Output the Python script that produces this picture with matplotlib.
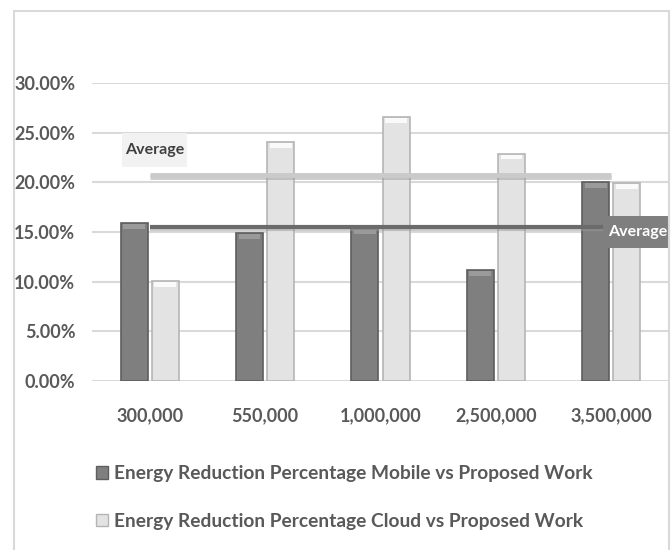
import numpy as np
import matplotlib.pyplot as plt
from matplotlib.patches import Patch, Rectangle
from matplotlib import patheffects as pe

# energy reduction per data size
sizes = ["300,000", "550,000", "1,000,000", "2,500,000", "3,500,000"]
mobile_pct = [15.95, 14.9, 15.4, 11.2, 20.05]
cloud_pct = [10.1, 24.1, 26.6, 22.9, 19.95]
series_names = ["Energy Reduction Percentage Mobile vs Proposed Work",
                "Energy Reduction Percentage Cloud vs Proposed Work"]

plt.rcParams['font.family'] = ['Lato', 'DejaVu Sans']
text_col = "#595959"
dark, light = "#7f7f7f", "#e3e3e3"

fig = plt.figure(figsize=(6.72, 5.5), dpi=100)
ax = fig.add_axes([92 / 672, 1 - 381 / 550, 577 / 672, 298 / 550])

x = np.arange(len(sizes))
w, off = 0.235, 0.135
ax.bar(x - off, mobile_pct, w, color=dark, edgecolor="#5e5e5e", linewidth=1.2, zorder=3)
ax.bar(x + off, cloud_pct, w, color=light, edgecolor="#b5b5b5", linewidth=1.2, zorder=3)

# bevel highlight on the bar tops
for xi, v in zip(x - off, mobile_pct):
    ax.bar(xi, 0.45, w * 0.8, bottom=v - 0.6, color="#9a9a9a", linewidth=0, zorder=4)
for xi, v in zip(x + off, cloud_pct):
    ax.bar(xi, 0.45, w * 0.8, bottom=v - 0.6, color="#fafafa", linewidth=0, zorder=4)

# average lines
mob_avg = np.mean(mobile_pct)
cld_avg = np.mean(cloud_pct)
shadow = [pe.SimpleLineShadow(offset=(0, -1.5), shadow_color="#9a9a9a", alpha=0.5), pe.Normal()]
ax.plot([x[0], x[-1]], [cld_avg, cld_avg], color="#cacaca", lw=3.5, zorder=5,
        solid_capstyle="butt", path_effects=shadow)
ax.plot([x[0], x[-1] - 0.07], [mob_avg, mob_avg], color="#6b6b6b", lw=3, zorder=5,
        solid_capstyle="butt", path_effects=shadow)

# "Average" tags
ax.add_patch(Rectangle((-0.24, cld_avg + 0.8), 0.56, 3.4, fc="#f2f2f2", ec="none", zorder=6))
ax.text(0.04, cld_avg + 2.5, "Average", fontsize=11.5, fontweight="bold", color="#404040",
        va="center", ha="center", zorder=7)
ax.add_patch(Rectangle((3.97, mob_avg - 2.1), 0.52, 3.2, fc="#7f7f7f", ec="none", zorder=6,
                       clip_on=False))
ax.text(4.23, mob_avg - 0.5, "Average", fontsize=11.5, fontweight="bold", color="white",
        va="center", ha="center", zorder=7)

ax.set_xlim(-0.5, 4.5)
ax.set_ylim(0, 30)
ax.set_yticks(np.arange(0, 31, 5))
ax.set_yticklabels([f"{v:.2f}%" for v in np.arange(0, 31, 5)])
ax.set_xticks(x)
ax.set_xticklabels(sizes)
ax.tick_params(length=0, labelsize=13, labelcolor=text_col)
ax.tick_params(axis="y", pad=12)
ax.tick_params(axis="x", pad=19)
for lbl in ax.get_xticklabels() + ax.get_yticklabels():
    lbl.set_fontweight("bold")
ax.grid(axis="y", color="#d9d9d9", lw=1.5, zorder=0)
for s in ax.spines.values():
    s.set_visible(False)

handles = [Patch(fc=dark, ec="#5e5e5e"), Patch(fc=light, ec="#b5b5b5")]
leg = fig.legend(handles, series_names, loc="upper left", bbox_to_anchor=(96 / 672, 1 - 465 / 550),
                 frameon=False, handlelength=0.65, handleheight=0.65, handletextpad=0.3,
                 labelspacing=1.6, borderpad=0, borderaxespad=0,
                 prop={"size": 13.8, "weight": "bold"})
for t in leg.get_texts():
    t.set_color(text_col)

# chart frame
fig.add_artist(Rectangle((13.5 / 672, -0.05), 655.5 / 672, 1.05 - 11 / 550, transform=fig.transFigure,
                         fill=False, ec="#d9d9d9", lw=1.5))

fig.savefig("out.png", dpi=100)
